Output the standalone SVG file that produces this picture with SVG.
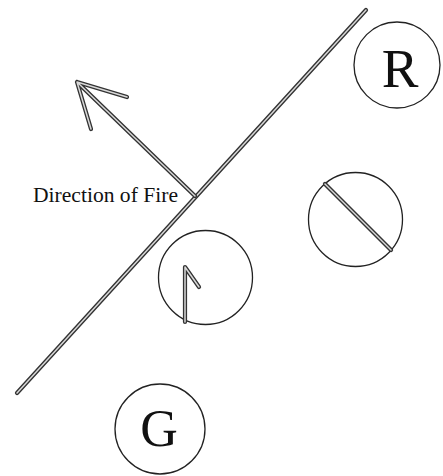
<svg xmlns="http://www.w3.org/2000/svg" width="443" height="476" viewBox="0 0 443 476">
<style>
.o{fill:none;stroke:#333;stroke-width:4.2;stroke-linecap:round;stroke-linejoin:round}
.i{fill:none;stroke:#d8d8d8;stroke-width:1.5;stroke-linecap:round;stroke-linejoin:round}
.c{fill:#fff;stroke:#222;stroke-width:1.3}
.t{font-family:"Liberation Serif","Times New Roman",serif;fill:#111}
</style>
<rect width="443" height="476" fill="#fff"/>
<g id="connectors">
<g id="front-line">
<path class="o" d="M17,393 L366,10"/>
<path class="i" d="M17,393 L366,10"/>
</g>
<g id="fire-arrow">
<path class="o" d="M195,196 L77,82 M127,97 L77,82 L91,129"/>
<path class="i" d="M195,196 L77,82 M127,97 L77,82 L91,129"/>
</g>
</g>
<g id="label">
<text class="t" x="33" y="202" font-size="20" textLength="145" lengthAdjust="spacingAndGlyphs">Direction of Fire</text>
</g>
<g id="node-R">
<circle class="c" cx="397" cy="65" r="43"/>
<text class="t" x="400" y="87" font-size="55" text-anchor="middle">R</text>
</g>
<g id="node-diag">
<circle class="c" cx="355.5" cy="219.5" r="47"/>
<path class="o" d="M325,184 L391,250"/>
<path class="i" d="M325,184 L391,250"/>
</g>
<g id="node-arrow">
<circle class="c" cx="205.5" cy="277.5" r="47"/>
<path class="o" d="M185,322 L185,267 L199,287"/>
<path class="i" d="M185,322 L185,267 L199,287"/>
</g>
<g id="node-G">
<circle class="c" cx="160" cy="429" r="45"/>
<text class="t" x="159" y="446" font-size="52" text-anchor="middle">G</text>
</g>
</svg>
